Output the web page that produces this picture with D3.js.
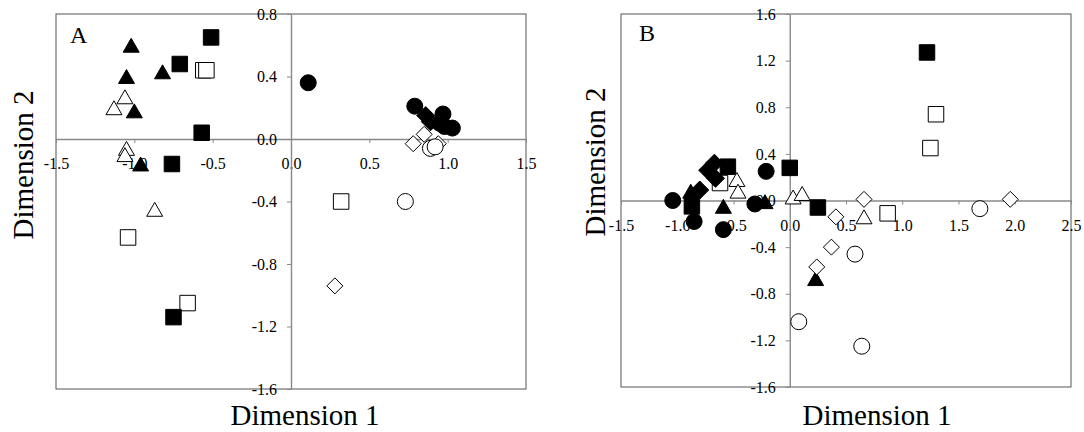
<!DOCTYPE html>
<html>
<head>
  <meta charset="UTF-8">
  <script src="https://cdnjs.cloudflare.com/ajax/libs/d3/7.8.5/d3.min.js"></script>
  <style>
    body { margin: 0; background: #fff; }
    text { font-family: "Liberation Serif", "Times New Roman", serif; }
  </style>
</head>
<body>
<script>
// ---- data (Dimension 1, Dimension 2) ----
// panel A
const filledTriangleA = [[-1.02,0.60],[-1.05,0.40],[-0.82,0.43],[-1.00,0.18],[-0.96,-0.16]];
const openTriangleA   = [[-1.06,0.27],[-1.13,0.20],[-1.05,-0.06],[-1.06,-0.10],[-0.87,-0.45]];
const filledSquareA   = [[-0.51,0.65],[-0.71,0.48],[-0.57,0.04],[-0.76,-0.16],[-0.75,-1.14]];
const openSquareA     = [[-0.56,0.44],[-0.54,0.44],[-1.04,-0.63],[-0.66,-1.05],[0.32,-0.40]];
const filledCircleA   = [[0.11,0.36],[0.79,0.21],[0.97,0.16],[0.98,0.08],[1.03,0.07],[0.95,0.10]];
const filledDiamondA  = [[0.86,0.15],[0.89,0.11]];
const openDiamondA    = [[0.78,-0.03],[0.85,0.03],[0.94,-0.03],[0.28,-0.94]];
const openCircleA     = [[0.89,-0.06],[0.92,-0.05],[0.73,-0.40]];

// panel B
const filledCircleB   = [[-1.04,0.00],[-0.85,-0.18],[-0.59,-0.25],[-0.31,-0.03],[-0.21,0.25]];
const filledTriangleB = [[-0.88,0.08],[-0.59,-0.05],[-0.22,-0.01],[0.23,-0.67]];
const filledSquareB   = [[-0.87,-0.05],[-0.55,0.29],[0.00,0.28],[0.25,-0.06],[1.22,1.27]];
const filledDiamondB  = [[-0.80,0.09],[-0.73,0.26],[-0.67,0.32],[-0.66,0.19]];
const openSquareB     = [[-0.62,0.15],[0.87,-0.11],[1.30,0.74],[1.25,0.45]];
const openTriangleB   = [[-0.47,0.18],[-0.46,0.08],[0.03,0.03],[0.11,0.06],[0.66,-0.14]];
const openDiamondB    = [[0.41,-0.14],[0.37,-0.40],[0.24,-0.57],[0.66,0.01],[1.96,0.01]];
const openCircleB     = [[0.08,-1.04],[0.58,-0.46],[0.64,-1.25],[1.69,-0.07]];

// tick labels
const xTicksA = [-1.5,-1.0,-0.5,0.0,0.5,1.0,1.5];
const yTicksA = [0.8,0.4,0.0,-0.4,-0.8,-1.2,-1.6];
const xTicksB = [-1.5,-1.0,-0.5,0.0,0.5,1.0,1.5,2.0,2.5];
const yTicksB = [1.6,1.2,0.8,0.4,0.0,-0.4,-0.8,-1.2,-1.6];

// ---- marker shapes (centred on their bounding box) ----
const triangle = { draw(ctx, size) {
  const w = Math.sqrt(size), h = w * 0.87;
  ctx.moveTo(0, -h/2); ctx.lineTo(w/2, h/2); ctx.lineTo(-w/2, h/2); ctx.closePath();
}};
const diamond = { draw(ctx, size) {
  const r = Math.sqrt(size) / 2;
  ctx.moveTo(0, -r); ctx.lineTo(r, 0); ctx.lineTo(0, r); ctx.lineTo(-r, 0); ctx.closePath();
}};

const styles = {
  openSquare:     { type: d3.symbolSquare, size: 15.5*15.5, fill: "#fff" },
  filledSquare:   { type: d3.symbolSquare, size: 15.5*15.5, fill: "#000" },
  filledDiamond:  { type: diamond, size: 18*18, fill: "#000" },
  filledTriangle: { type: triangle, size: 16*16, fill: "#000" },
  filledCircle:   { type: d3.symbolCircle, size: Math.PI*8*8, fill: "#000" },
  openTriangle:   { type: triangle, size: 16*16, fill: "#fff" },
  openDiamond:    { type: diamond, size: 16*16, fill: "#fff" },
  openCircle:     { type: d3.symbolCircle, size: Math.PI*8*8, fill: "#fff" }
};

const panels = [
  { letter: "A", box: [56, 526, 14, 389], xDom: [-1.5, 1.5], yDom: [-1.6, 0.8],
    xTicks: xTicksA, yTicks: yTicksA, letterAt: [70, 43],
    t1: [305, 425], t2: [33, 165],
    series: { openSquare: openSquareA, filledSquare: filledSquareA, filledDiamond: filledDiamondA,
              filledTriangle: filledTriangleA, filledCircle: filledCircleA, openTriangle: openTriangleA,
              openDiamond: openDiamondA, openCircle: openCircleA } },
  { letter: "B", box: [621, 1071, 14, 387], xDom: [-1.5, 2.5], yDom: [-1.6, 1.6],
    xTicks: xTicksB, yTicks: yTicksB, letterAt: [639, 41],
    t1: [877, 425], t2: [605, 162],
    series: { openSquare: openSquareB, filledSquare: filledSquareB, filledDiamond: filledDiamondB,
              filledTriangle: filledTriangleB, filledCircle: filledCircleB, openTriangle: openTriangleB,
              openDiamond: openDiamondB, openCircle: openCircleB } }
];

const svg = d3.select("body").append("svg")
  .attr("width", 1084).attr("height", 432);

const fmt = d => d.toFixed(1);

panels.forEach(p => {
  const [x0, x1, y0, y1] = p.box;
  const x = d3.scaleLinear().domain(p.xDom).range([x0, x1]);
  const y = d3.scaleLinear().domain(p.yDom).range([y1, y0]);
  const g = svg.append("g");

  // frame
  g.append("rect")
    .attr("x", x0).attr("y", y0)
    .attr("width", x1 - x0).attr("height", y1 - y0)
    .attr("fill", "none").attr("stroke", "#555").attr("stroke-width", 1);

  // axes crossing at the origin
  const xa = g.append("g")
    .attr("transform", "translate(0," + y(0) + ")")
    .call(d3.axisBottom(x).tickValues(p.xTicks).tickFormat(fmt)
      .tickSize(4).tickSizeOuter(0).tickPadding(15));
  const ya = g.append("g")
    .attr("transform", "translate(" + x(0) + ",0)")
    .call(d3.axisLeft(y).tickValues(p.yTicks).tickFormat(fmt)
      .tickSize(4).tickSizeOuter(0).tickPadding(10));
  [xa, ya].forEach(a => {
    a.attr("font-family", '"Liberation Serif", serif').attr("font-size", 16);
    a.select(".domain").attr("stroke", "#888").attr("stroke-width", 1.4);
    a.selectAll(".tick line").attr("stroke", "#888");
    a.selectAll(".tick text").attr("fill", "#000");
  });

  // markers
  Object.keys(p.series).forEach(k => {
    const st = styles[k];
    const sym = d3.symbol().type(st.type).size(st.size);
    g.append("g").selectAll("path")
      .data(p.series[k]).join("path")
      .attr("transform", d => "translate(" + x(d[0]) + "," + y(d[1]) + ")")
      .attr("d", sym)
      .attr("fill", st.fill)
      .attr("stroke", "#000").attr("stroke-width", 1);
  });

  // labels
  g.append("text").attr("x", p.letterAt[0]).attr("y", p.letterAt[1])
    .style("font-size", "24px").text(p.letter);
  g.append("text").attr("x", p.t1[0]).attr("y", p.t1[1])
    .attr("text-anchor", "middle").style("font-size", "29px").text("Dimension 1");
  g.append("text")
    .attr("transform", "translate(" + p.t2[0] + "," + p.t2[1] + ") rotate(-90)")
    .attr("text-anchor", "middle").style("font-size", "29px").text("Dimension 2");
});
</script>
</body>
</html>
